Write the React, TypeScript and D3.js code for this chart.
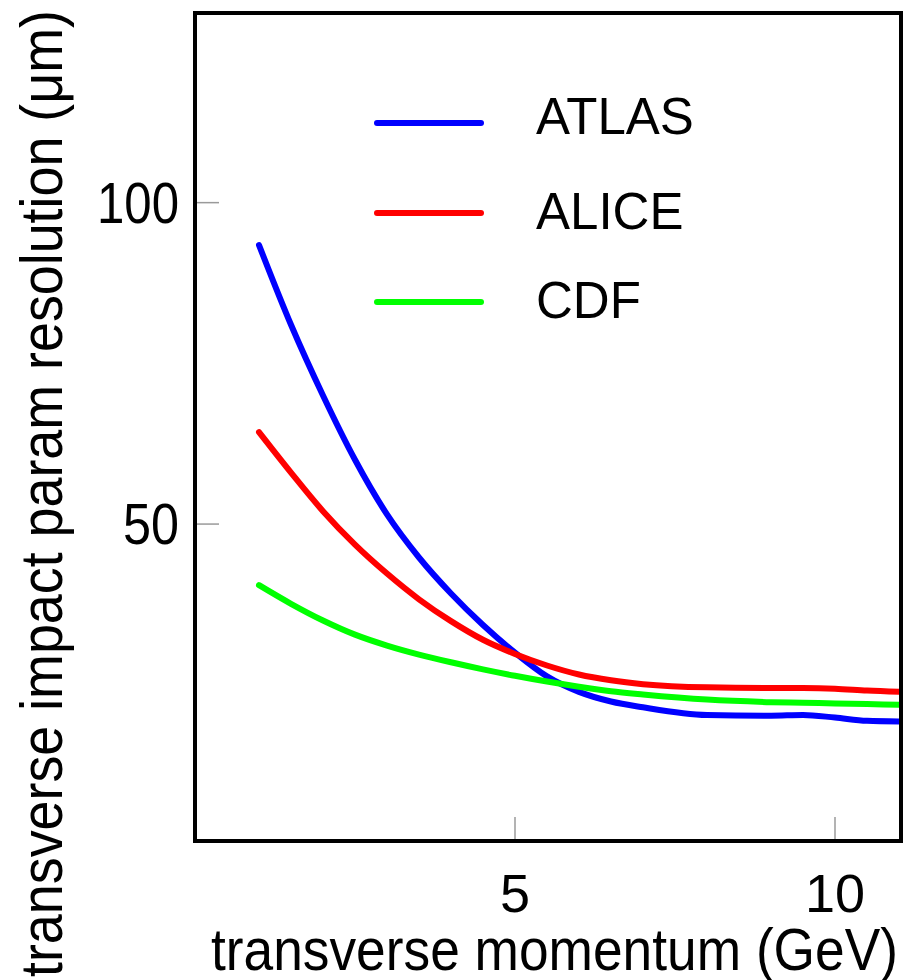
import React, { useEffect, useRef } from "react"
import * as d3 from "d3"

const momentum = [1, 1.5, 2, 2.5, 3, 3.5, 4, 4.5, 5, 5.5, 6, 6.5, 7, 8, 9, 9.5, 10, 10.5, 11]
const atlas = [93.4, 81, 70, 60, 51.5, 44.8, 39.2, 34.3, 30.0, 26.3, 23.9, 22.4, 21.5, 20.3, 20.2, 20.3, 19.9, 19.4, 19.3]
const alice = [64.3, 58, 52, 46.8, 42.3, 38.3, 34.9, 32, 29.8, 28, 26.6, 25.7, 25.1, 24.6, 24.5, 24.5, 24.4, 24.1, 23.9]
const cdf = [40.5, 37.6, 35, 32.8, 31.1, 29.7, 28.5, 27.4, 26.4, 25.5, 24.7, 24.0, 23.5, 22.7, 22.3, 22.2, 22.1, 22.0, 21.9]

const seriesNames = ["ATLAS", "ALICE", "CDF"]
const seriesColors = ["#0000ff", "#ff0000", "#00ff00"]
const xTicks = [5, 10]
const yTicks = [100, 50]
const xTitle = "transverse momentum (GeV)"
const yTitle = "transverse impact param resolution (\u03bcm)"

const FONT = "'Liberation Sans', Arial, Helvetica, sans-serif"

function App() {
    const ref = useRef(null)

    useEffect(() => {
        const svg = d3.select(ref.current)
        svg.selectAll("*").remove()

        const box = { left: 195, right: 901, top: 13, bottom: 841 }
        const xScale = d3.scaleLinear().domain([0, 11]).range([195, 899])
        const yScale = d3.scaleLinear().domain([0.7, 129.5]).range([box.bottom, box.top])

        svg.append("rect")
            .attr("width", 917)
            .attr("height", 980)
            .attr("fill", "#fff")

        // small inside ticks
        svg.selectAll(".ytick")
            .data(yTicks)
            .enter()
            .append("line")
            .attr("x1", box.left)
            .attr("x2", box.left + 24)
            .attr("y1", d => yScale(d))
            .attr("y2", d => yScale(d))
            .attr("stroke", "#9a9a9a")
            .attr("stroke-width", 1.5)
        svg.selectAll(".xtick")
            .data(xTicks)
            .enter()
            .append("line")
            .attr("x1", d => xScale(d))
            .attr("x2", d => xScale(d))
            .attr("y1", box.bottom)
            .attr("y2", box.bottom - 24)
            .attr("stroke", "#9a9a9a")
            .attr("stroke-width", 1.5)

        const allSeries = [atlas, alice, cdf]
        const line = d3.line()
            .x((d, i) => xScale(momentum[i]))
            .y(d => yScale(d))
            .curve(d3.curveMonotoneX)

        allSeries.forEach((vals, k) => {
            svg.append("path")
                .datum(vals)
                .attr("d", line)
                .attr("fill", "none")
                .attr("stroke", seriesColors[k])
                .attr("stroke-width", 6)
                .attr("stroke-linecap", "round")
                .attr("stroke-linejoin", "round")
        })

        svg.append("rect")
            .attr("x", box.left)
            .attr("y", box.top)
            .attr("width", box.right - box.left)
            .attr("height", box.bottom - box.top)
            .attr("fill", "none")
            .attr("stroke", "#000")
            .attr("stroke-width", 4)

        // legend
        const legendLineY = [123, 213, 302]
        const legendTextY = [134, 229, 318]
        seriesNames.forEach((name, k) => {
            svg.append("line")
                .attr("x1", 377)
                .attr("x2", 481)
                .attr("y1", legendLineY[k])
                .attr("y2", legendLineY[k])
                .attr("stroke", seriesColors[k])
                .attr("stroke-width", 6)
                .attr("stroke-linecap", "round")
            svg.append("text")
                .attr("x", 536)
                .attr("y", legendTextY[k])
                .attr("font-family", FONT)
                .attr("font-size", 51)
                .attr("fill", "#000")
                .text(name)
        })

        svg.selectAll(".ylabel")
            .data(yTicks)
            .enter()
            .append("text")
            .attr("x", 179)
            .attr("y", d => yScale(d) + 20)
            .attr("text-anchor", "end")
            .attr("font-family", FONT)
            .attr("font-size", 57)
            .attr("textLength", d => (d >= 100 ? 82 : 56))
            .attr("lengthAdjust", "spacingAndGlyphs")
            .text(d => d)

        svg.selectAll(".xlabel")
            .data(xTicks)
            .enter()
            .append("text")
            .attr("x", d => xScale(d))
            .attr("y", 912)
            .attr("text-anchor", "middle")
            .attr("font-family", FONT)
            .attr("font-size", 54)
            .text(d => d)

        svg.append("text")
            .attr("x", 211)
            .attr("y", 970)
            .attr("font-family", FONT)
            .attr("font-size", 60)
            .attr("textLength", 687)
            .attr("lengthAdjust", "spacingAndGlyphs")
            .text(xTitle)

        svg.append("text")
            .attr("transform", "translate(62,977) rotate(-90)")
            .attr("x", 0)
            .attr("y", 0)
            .attr("font-family", FONT)
            .attr("font-size", 60)
            .attr("textLength", 967)
            .attr("lengthAdjust", "spacingAndGlyphs")
            .text(yTitle)
    }, [])

    return (
        <svg
            ref={ref}
            width={917}
            height={980}
            style={{ position: "absolute", left: 0, top: 0, display: "block" }}
        />
    )
}

export default App
